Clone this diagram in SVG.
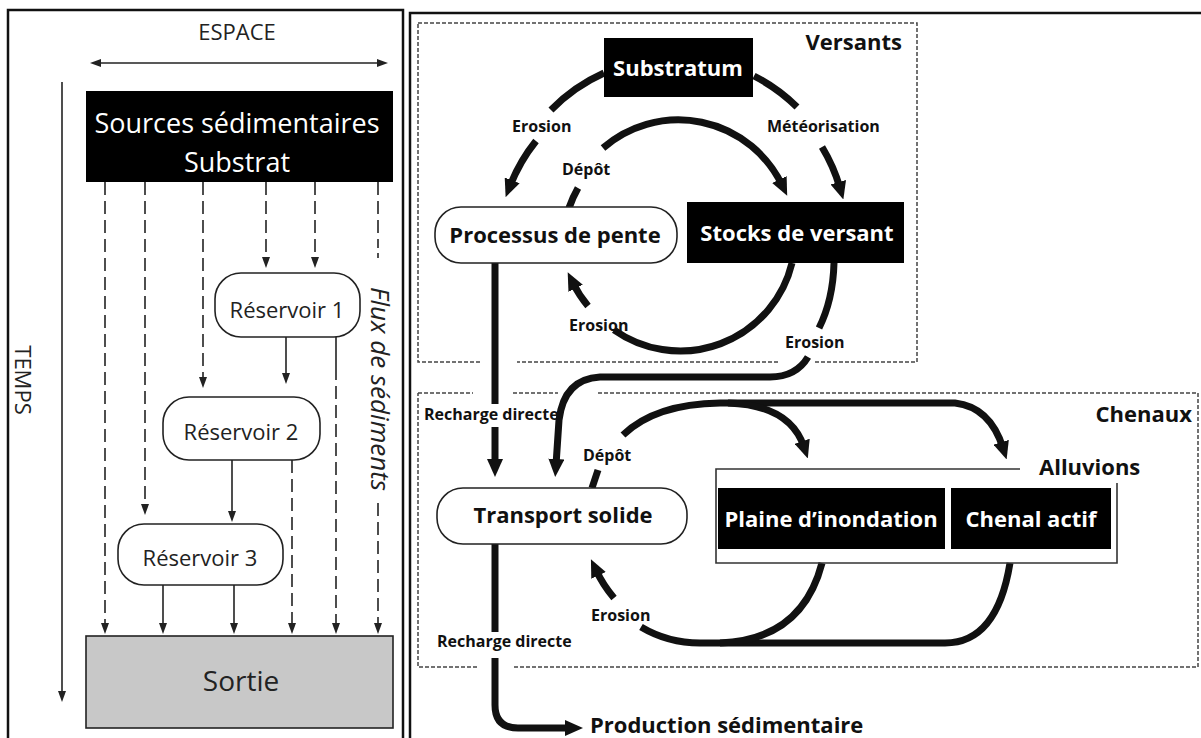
<svg xmlns="http://www.w3.org/2000/svg" width="1201" height="738" viewBox="0 0 1201 738">
<style>
.lt{font-family:"Open Sans","Liberation Sans",sans-serif;fill:#222}
.bt{font-family:"Open Sans","Liberation Sans",sans-serif;font-weight:700;fill:#111}
.wt{font-family:"Open Sans","Liberation Sans",sans-serif;font-weight:700;fill:#fff}
.thin{fill:none;stroke:#222;stroke-width:1.6}
.dash{stroke-dasharray:13 6}
.thick{fill:none;stroke:#111;stroke-width:7}
.box{fill:none;stroke:#444;stroke-width:1.5;stroke-dasharray:4 2}
.pill{fill:#fff;stroke:#222;stroke-width:1.6}
.blk{fill:#000}
</style>
<defs>
<marker id="sa" markerUnits="userSpaceOnUse" markerWidth="11" markerHeight="8" viewBox="0 0 11 8" refX="1" refY="4" orient="auto-start-reverse"><path d="M0,0 L11,4 L0,8 z" fill="#222"/></marker>
<marker id="ba" markerUnits="userSpaceOnUse" markerWidth="18" markerHeight="16" viewBox="0 0 18 16" refX="6" refY="8" orient="auto"><path d="M0,0 L18,8 L0,16 z" fill="#111"/></marker>
</defs>
<rect width="1201" height="738" fill="#fff"/>

<!-- panel frames -->
<g id="frames" fill="none" stroke="#111" stroke-width="2.5">
<rect x="8" y="10" width="395" height="740"/>
<path d="M410 740 V13 H1201"/>
</g>

<!-- left panel axes -->
<g id="axes">
<path class="thin" d="M62 82 V692" marker-end="url(#sa)"/>
<path class="thin" d="M100 63 H378" marker-start="url(#sa)" marker-end="url(#sa)"/>
<text class="lt" x="237" y="40" font-size="22" text-anchor="middle">ESPACE</text>
<text class="lt" font-size="22" text-anchor="middle" transform="translate(15,380) rotate(90)">TEMPS</text>
<text class="lt" font-size="26" font-style="italic" text-anchor="middle" transform="translate(371,389) rotate(90)">Flux de sédiments</text>
</g>

<!-- left panel connectors -->
<g id="connectors-left" class="thin">
<path class="dash" d="M105 182 V624" marker-end="url(#sa)"/>
<path class="dash" d="M145 182 V505" marker-end="url(#sa)"/>
<path class="dash" d="M203 182 V378" marker-end="url(#sa)"/>
<path class="dash" d="M266 182 V258" marker-end="url(#sa)"/>
<path class="dash" d="M315 182 V258" marker-end="url(#sa)"/>
<path class="dash" d="M378 182 V248"/>
<path d="M378 253 V258"/>
<path class="dash" d="M378 503 V624" marker-end="url(#sa)"/>
<path d="M286 337 V374" marker-end="url(#sa)"/>
<path d="M336 337 V380"/>
<path class="dash" d="M336 386 V624" marker-end="url(#sa)"/>
<path d="M232 460 V512" marker-end="url(#sa)"/>
<path class="dash" d="M292 460 V624" marker-end="url(#sa)"/>
<path d="M163 585 V624" marker-end="url(#sa)"/>
<path d="M234 585 V624" marker-end="url(#sa)"/>
</g>

<!-- left panel nodes -->
<g id="sources">
<rect x="86" y="91" width="307" height="91" fill="#000"/>
<text class="lt" x="237" y="133" font-size="27" text-anchor="middle" fill="#fff" style="fill:#fff">Sources sédimentaires</text>
<text class="lt" x="237" y="172" font-size="27" text-anchor="middle" style="fill:#fff">Substrat</text>
</g>
<g id="reservoir1">
<rect class="pill" x="215" y="273" width="145" height="64" rx="26"/>
<text class="lt" x="287" y="318" font-size="22" text-anchor="middle">Réservoir 1</text>
</g>
<g id="reservoir2">
<rect class="pill" x="163" y="397" width="157" height="63" rx="26"/>
<text class="lt" x="241" y="440" font-size="22" text-anchor="middle">Réservoir 2</text>
</g>
<g id="reservoir3">
<rect class="pill" x="118" y="524" width="165" height="61" rx="26"/>
<text class="lt" x="200" y="566" font-size="22" text-anchor="middle">Réservoir 3</text>
</g>
<g id="sortie">
<rect x="86" y="636" width="307" height="92" fill="#c8c8c8" stroke="#222" stroke-width="1.6"/>
<text class="lt" x="241" y="691" font-size="28" text-anchor="middle">Sortie</text>
</g>

<!-- zones -->
<g id="zone-versants">
<path class="box" d="M418 23 H917 V362 H815 M778 362 H517 M480 362 H418 V23"/>
<text class="bt" x="902" y="50" font-size="22" text-anchor="end">Versants</text>
</g>
<g id="zone-chenaux">
<path class="box" d="M418 393 H473 M513 393 H558 M598 393 H1198 V667 H513 M477 667 H418 V393"/>
<text class="bt" x="1192" y="422" font-size="22" text-anchor="end">Chenaux</text>
</g>

<!-- right panel connectors -->
<g id="connectors-right" class="thick">
<path d="M604 73 A172 172 0 0 0 551 110"/>
<path d="M536 141 A172 172 0 0 0 510 186" marker-end="url(#ba)"/>
<path d="M754 76 A172 172 0 0 1 797 107"/>
<path d="M822 147 A172 172 0 0 1 840 188" marker-end="url(#ba)"/>
<path d="M569 208 A115 115 0 0 1 578 188"/>
<path d="M603 148 A115 115 0 0 1 782 185" marker-end="url(#ba)"/>
<path d="M792 263 A115 115 0 0 1 614 330"/>
<path d="M588 306 A115 115 0 0 1 573 283" marker-end="url(#ba)"/>
<path d="M834 263 Q833 300 819 328"/>
<path d="M808 357 Q796 377 770 377 L600 377 Q564 379 559 420 L556 465" marker-end="url(#ba)"/>
<path d="M495 263 V404"/>
<path d="M495 427 V465" marker-end="url(#ba)"/>
<path d="M495 544 V632"/>
<path d="M495 658 V705 Q495 728 518 728 H571" marker-end="url(#ba)"/>
<path d="M592 488 L598 470"/>
<path d="M623 435 Q655 404 720 403 H955 Q990 407 1003 448" marker-end="url(#ba)"/>
<path d="M728 403 Q790 405 804 447" marker-end="url(#ba)"/>
<path d="M1010 563 Q997 643 945 643 H700 Q668 643 641 627"/>
<path d="M822 563 Q802 640 720 643"/>
<path d="M614 598 Q603 585 596 570" marker-end="url(#ba)"/>
</g>

<!-- connector labels -->
<g id="labels" class="bt" font-size="16">
<text x="512" y="132">Erosion</text>
<text x="767" y="132">Météorisation</text>
<text x="562" y="175">Dépôt</text>
<text x="569" y="331">Erosion</text>
<text x="785" y="348">Erosion</text>
<text x="424" y="420">Recharge directe</text>
<text x="583" y="461">Dépôt</text>
<text x="591" y="621">Erosion</text>
<text x="437" y="647">Recharge directe</text>
</g>

<!-- right panel nodes -->
<g id="substratum">
<rect class="blk" x="604" y="38" width="149" height="59"/>
<text class="wt" x="678" y="76" font-size="22" text-anchor="middle">Substratum</text>
</g>
<g id="processus">
<rect class="pill" x="435" y="207" width="242" height="56" rx="26"/>
<text class="bt" x="555" y="243" font-size="22" text-anchor="middle">Processus de pente</text>
</g>
<g id="stocks">
<rect class="blk" x="687" y="202" width="217" height="61"/>
<text class="wt" x="797" y="241" font-size="22" text-anchor="middle">Stocks de versant</text>
</g>
<g id="transport">
<rect class="pill" x="437" y="488" width="250" height="56" rx="26"/>
<text class="bt" x="563" y="523" font-size="22" text-anchor="middle">Transport solide</text>
</g>
<g id="alluvions">
<path d="M1020 469 H716 V563 H1117 V483" fill="none" stroke="#333" stroke-width="1.6"/>
<text class="bt" x="1039" y="475" font-size="22">Alluvions</text>
</g>
<g id="plaine">
<rect class="blk" x="718" y="488" width="227" height="61"/>
<text class="wt" x="831" y="527" font-size="22" text-anchor="middle">Plaine d’inondation</text>
</g>
<g id="chenal">
<rect class="blk" x="951" y="488" width="160" height="61"/>
<text class="wt" x="1031" y="527" font-size="22" text-anchor="middle">Chenal actif</text>
</g>
<g id="production">
<text class="bt" x="590" y="733" font-size="22">Production sédimentaire</text>
</g>
</svg>
